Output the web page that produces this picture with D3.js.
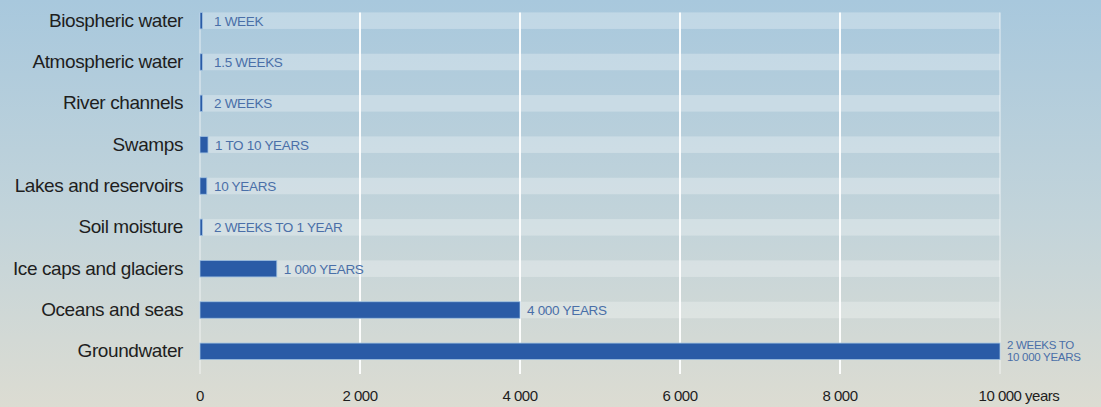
<!DOCTYPE html>
<html>
<head>
<meta charset="utf-8">
<script src="https://cdn.jsdelivr.net/npm/d3@7"></script>
<style>
  html, body { margin: 0; padding: 0; }
  body { width: 1101px; height: 407px; overflow: hidden; }
</style>
</head>
<body>
<div id="chart"></div>
<script>
// data (bar lengths in years, tiny ones drawn as thin ticks)
var categories = ["Biospheric water", "Atmospheric water", "River channels", "Swamps",
  "Lakes and reservoirs", "Soil moisture", "Ice caps and glaciers", "Oceans and seas", "Groundwater"];
var values = [30, 30, 30, 100, 85, 30, 960, 4000, 10000];
var valueLabels = [["1 WEEK"], ["1.5 WEEKS"], ["2 WEEKS"], ["1 TO 10 YEARS"], ["10 YEARS"],
  ["2 WEEKS TO 1 YEAR"], ["1 000 YEARS"], ["4 000 YEARS"], ["2 WEEKS TO", "10 000 YEARS"]];
var tickValues = [0, 2000, 4000, 6000, 8000, 10000];
var axisUnit = "years";

var margin = {top: 0, right: 101, bottom: 35, left: 200},
  width = 1101 - margin.left - margin.right,
  height = 407 - margin.top - margin.bottom;

var svg = d3.select("#chart")
  .append("svg")
    .attr("width", 1101)
    .attr("height", 407);

// background gradient
var defs = svg.append("defs");
var grad = defs.append("linearGradient")
  .attr("id", "bg").attr("x1", 0).attr("y1", 0).attr("x2", 0).attr("y2", 1);
grad.append("stop").attr("offset", "0%").attr("stop-color", "#a8c8dd");
grad.append("stop").attr("offset", "55%").attr("stop-color", "#c3d4da");
grad.append("stop").attr("offset", "100%").attr("stop-color", "#dcdcd2");

svg.append("rect")
  .attr("width", 1101).attr("height", 407)
  .attr("fill", "url(#bg)");

var g = svg.append("g")
  .attr("transform", "translate(" + margin.left + "," + margin.top + ")");

var x = d3.scaleLinear()
  .domain([0, 10000])
  .range([0, width]);

var y = d3.scaleBand()
  .domain(categories)
  .range([0, height])
  .paddingInner(0.6)
  .paddingOuter(0.3);

// light row bands
g.selectAll(".band")
  .data(categories)
  .enter()
  .append("rect")
    .attr("class", "band")
    .attr("x", x(0))
    .attr("y", function(d) { return y(d); })
    .attr("width", x(10000) - x(0))
    .attr("height", y.bandwidth())
    .attr("fill", "#ffffff")
    .attr("opacity", 0.28);

// vertical grid lines
g.selectAll(".grid")
  .data(tickValues)
  .enter()
  .append("line")
    .attr("class", "grid")
    .attr("x1", function(d) { return x(d); })
    .attr("x2", function(d) { return x(d); })
    .attr("y1", y(categories[0]))
    .attr("y2", height + 2)
    .attr("stroke", "#ffffff")
    .attr("stroke-width", 2)
    .attr("opacity", function(d) { return (d == 0 || d == 10000) ? 0.35 : 0.95; });

// bars
g.selectAll(".bar")
  .data(categories)
  .enter()
  .append("rect")
    .attr("class", "bar")
    .attr("x", x(0))
    .attr("y", function(d) { return y(d); })
    .attr("width", function(d, i) { return x(values[i]) - x(0); })
    .attr("height", y.bandwidth())
    .attr("fill", "#2a5ba6")
    .attr("stroke", "#9fc0e0")
    .attr("stroke-width", 0.8);

// value labels
var lbl = g.selectAll(".vlabel")
  .data(categories)
  .enter()
  .append("text")
    .attr("class", "vlabel")
    .attr("x", function(d, i) { return Math.max(x(values[i]), 7) + 7; })
    .attr("y", function(d, i) {
      var c = y(d) + y.bandwidth() / 2;
      return valueLabels[i].length > 1 ? c - 2 : c + 5;
    })
    .style("font-family", "'Liberation Sans Narrow', 'Liberation Sans', Arial, sans-serif")
    .style("font-size", function(d, i) { return valueLabels[i].length > 1 ? "11.5px" : "13.5px"; })
    .style("letter-spacing", "-0.3px")
    .style("fill", "#4a6fa8");

lbl.each(function(d, i) {
  var t = d3.select(this);
  var xx = t.attr("x");
  valueLabels[i].forEach(function(s, k) {
    t.append("tspan")
      .attr("x", xx)
      .attr("dy", k == 0 ? 0 : 11.5)
      .text(s);
  });
});

// category labels
g.selectAll(".clabel")
  .data(categories)
  .enter()
  .append("text")
    .attr("class", "clabel")
    .attr("x", -17)
    .attr("y", function(d) { return y(d) + y.bandwidth() / 2 + 6; })
    .attr("text-anchor", "end")
    .style("font-family", "'Liberation Sans', Arial, sans-serif")
    .style("font-size", "19px")
    .style("letter-spacing", "-0.4px")
    .style("fill", "#1e1e1e")
    .text(function(d) { return d; });

// x axis labels
var fmt = function(d) { return d3.format(",")(d).replace(/,/g, " "); };
var ticks = g.selectAll(".tick")
  .data(tickValues)
  .enter()
  .append("text")
    .attr("class", "tick")
    .attr("x", function(d) { return x(d); })
    .attr("y", height + 29)
    .attr("text-anchor", "middle")
    .style("font-family", "'Liberation Sans', Arial, sans-serif")
    .style("font-size", "15px")
    .style("letter-spacing", "-0.5px")
    .style("fill", "#1e1e1e")
    .text(fmt);

// unit after the last tick
ticks.filter(function(d) { return d == 10000; })
  .each(function(d) {
    var w = this.getComputedTextLength();
    d3.select(this)
      .attr("text-anchor", "start")
      .attr("x", x(d) - w / 2)
      .append("tspan").text(" " + axisUnit);
  });
</script>
</body>
</html>
